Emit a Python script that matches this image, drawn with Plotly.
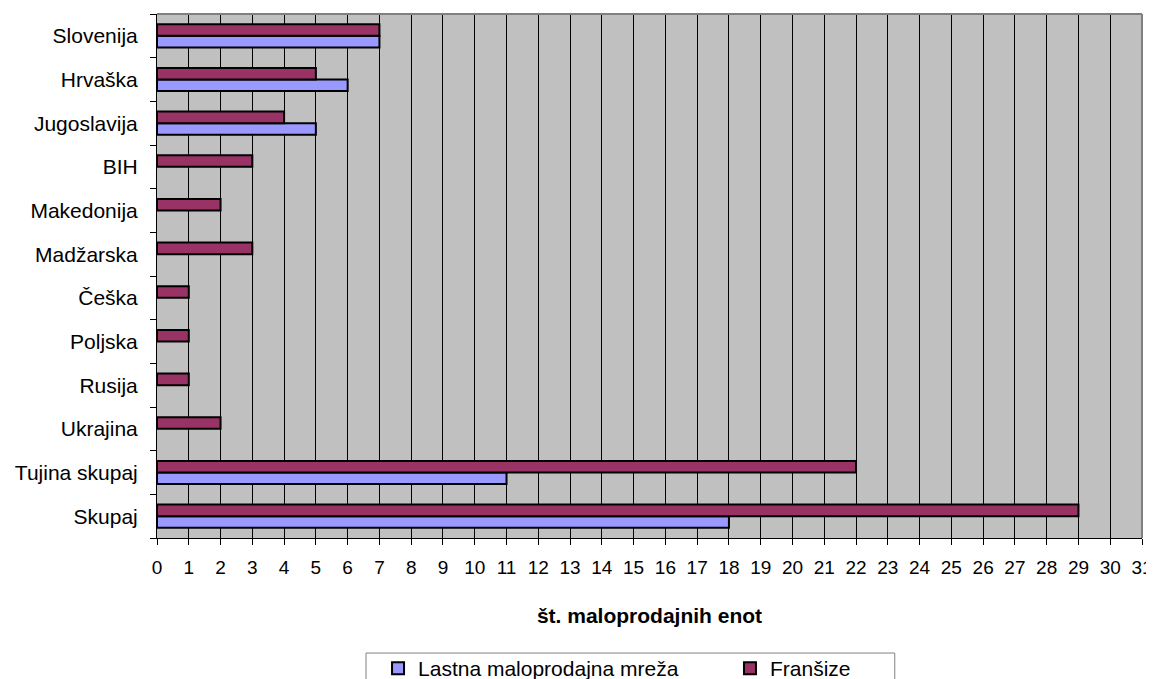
import plotly.graph_objects as go

categories = ["Slovenija", "Hrvaška", "Jugoslavija", "BIH", "Makedonija", "Madžarska",
              "Češka", "Poljska", "Rusija", "Ukrajina", "Tujina skupaj", "Skupaj"]
lastna = [7, 6, 5, None, None, None, None, None, None, None, 11, 18]
fransize = [7, 5, 4, 3, 2, 3, 1, 1, 1, 2, 22, 29]
x_ticks = list(range(0, 32))

cats_r = categories[::-1]
lastna_r = lastna[::-1]
fransize_r = fransize[::-1]

FONT = "Liberation Sans, Arial, sans-serif"
FS = 21

fig = go.Figure()
fig.add_trace(go.Bar(y=cats_r, x=lastna_r, orientation="h", name="Lastna maloprodajna mreža",
                     marker=dict(color="#9999FF", line=dict(color="black", width=2)),
                     legend="legend"))
fig.add_trace(go.Bar(y=cats_r, x=fransize_r, orientation="h", name="Franšize",
                     marker=dict(color="#993366", line=dict(color="black", width=2)),
                     legend="legend2"))

leg_common = dict(orientation="h", xanchor="left", yanchor="top",
                  bgcolor="rgba(0,0,0,0)", borderwidth=0,
                  font=dict(size=FS, family=FONT, color="black"), itemwidth=30)

fig.update_layout(
    width=1146, height=671,
    margin=dict(l=149, r=12, t=6, b=141, autoexpand=False),
    paper_bgcolor="white", plot_bgcolor="#C0C0C0",
    barmode="group", bargap=0.47, bargroupgap=0,
    font=dict(family=FONT, size=FS, color="black"),
    showlegend=True,
    legend=dict(x=0.2244, y=-0.2099, **leg_common),
    legend2=dict(x=0.5817, y=-0.2099, **leg_common),
    xaxis=dict(range=[0, 31], tickmode="array", tickvals=x_ticks,
               ticktext=[str(v) for v in x_ticks], tickfont=dict(size=19),
               showgrid=True, gridcolor="black", gridwidth=1,
               showline=True, linecolor="black", linewidth=1,
               ticks="outside", ticklen=6, tickcolor="black",
               zeroline=False, ticklabelstandoff=6,
               title=dict(text="<b>št. maloprodajnih enot</b>", font=dict(size=FS), standoff=31)),
    yaxis=dict(type="category", categoryorder="array", categoryarray=cats_r,
               showgrid=False, showline=True, linecolor="black", linewidth=1,
               ticks="outside", ticklen=6, tickcolor="black", tickson="boundaries",
               ticklabelstandoff=14),
    shapes=[
        dict(type="line", xref="paper", yref="paper", x0=0, x1=1, y0=1, y1=1,
             line=dict(color="#808080", width=2)),
        dict(type="line", xref="paper", yref="paper", x0=1, x1=1, y0=0, y1=1,
             line=dict(color="#808080", width=2)),
        dict(type="rect", xref="paper", yref="paper", x0=0.2122, x1=0.749,
             y0=-0.2195, y1=-0.4, line=dict(color="#808080", width=1),
             fillcolor="rgba(0,0,0,0)", layer="below"),
    ],
)

fig.write_html("out.html")
